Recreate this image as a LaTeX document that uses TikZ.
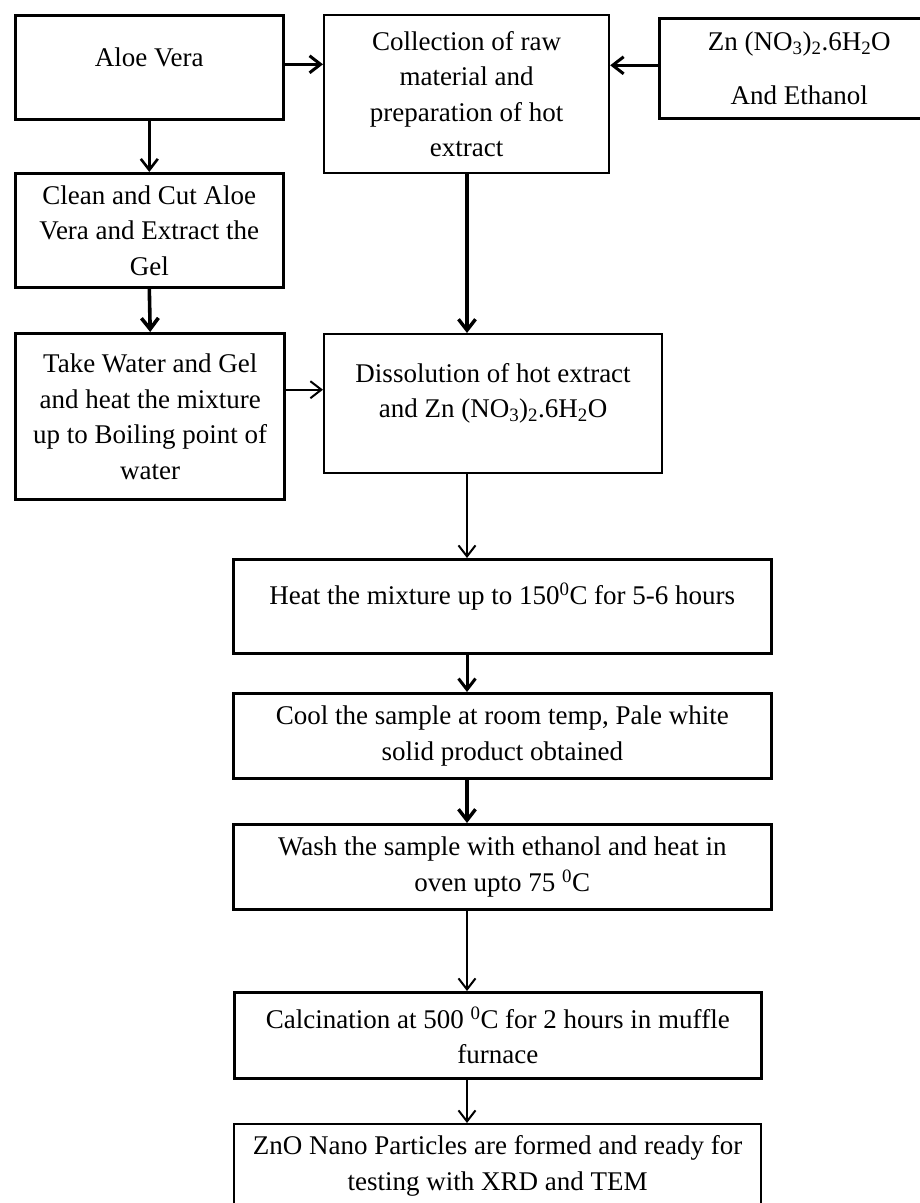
\documentclass[tikz,border=0pt]{standalone}
\usepackage{fontspec}
\setmainfont{Liberation Serif}
\usetikzlibrary{arrows.meta}

\begin{document}
\begin{tikzpicture}[x=1pt,y=-1pt,
    stepbox/.style={draw, line width=2.6pt, rectangle, anchor=north west,
      align=center, inner sep=0pt, font=\fontsize{27}{35.5}\selectfont},
    flow/.style={line width=3pt, -{Straight Barb[length=11pt,width=17pt]}},
    thinflow/.style={flow, line width=2pt}]
	\useasboundingbox (0,0) rectangle (919,1203);
	% top row
	\node[stepbox, minimum width=268pt, minimum height=104pt, text depth=20pt]
		(aloe) at (14,14) {Aloe Vera};
	\node[stepbox, line width=2.2pt, minimum width=285pt, minimum height=158pt]
		(collect) at (323,14) {Collection of raw\\material and\\preparation of hot\\extract};
	\node[stepbox, minimum width=280pt, minimum height=100pt]
		(zinc) at (658,17) {Zn (NO\textsubscript{3})\textsubscript{2}.6H\textsubscript{2}O\\[18pt]And Ethanol};
	% left column
	\node[stepbox, minimum width=268pt, minimum height=114pt]
		(clean) at (14,172) {Clean and Cut Aloe\\Vera and Extract the\\Gel};
	\node[stepbox, line width=3.4pt, minimum width=269pt, minimum height=166pt]
		(water) at (14,332) {Take Water and Gel\\and heat the mixture\\up to Boiling point of\\water};
	\node[stepbox, line width=2.2pt, minimum width=338pt, minimum height=139pt, text depth=26pt]
		(dissolve) at (323,333) {Dissolution of hot extract\\and Zn (NO\textsubscript{3})\textsubscript{2}.6H\textsubscript{2}O};
	% main column
	\node[stepbox, minimum width=538pt, minimum height=94pt, text depth=26pt]
		(heat) at (232,558) {Heat the mixture up to 150\textsuperscript{0}C for 5-6 hours};
	\node[stepbox, minimum width=538pt, minimum height=85pt]
		(cool) at (232,692) {Cool the sample at room temp, Pale white\\solid product obtained};
	\node[stepbox, minimum width=538pt, minimum height=85pt]
		(wash) at (232,823) {Wash the sample with ethanol and heat in\\oven upto 75 \textsuperscript{0}C};
	\node[stepbox, minimum width=527pt, minimum height=86pt]
		(calcine) at (233,991) {Calcination at 500 \textsuperscript{0}C for 2 hours in muffle\\furnace};
	\node[stepbox, line width=2.2pt, minimum width=527pt, minimum height=84pt]
		(zno) at (233,1123) {ZnO Nano Particles are formed and ready for\\testing with XRD and TEM};
	\coordinate (spine) at (467,0);
	% connectors
	\draw[flow] ([yshift=3pt]aloe.east) -- ([yshift=3pt]aloe.east -| collect.west);
	\draw[flow] ([yshift=3pt]zinc.west) -- ([yshift=3pt]zinc.west -| collect.east);
	\draw[flow, line width=2.6pt] (aloe.south) -- (clean.north);
	\draw[flow, line width=3.6pt] (clean.south) -- (water.north);
	\draw[thinflow] ([yshift=27pt]water.east) -- ([yshift=27pt]water.east -| dissolve.west);
	\draw[flow, line width=3.4pt] (collect.south -| spine) -- (dissolve.north -| spine);
	\draw[thinflow] (dissolve.south -| spine) -- (heat.north -| spine);
	\draw[flow] (heat.south -| spine) -- (cool.north -| spine);
	\draw[flow, line width=3.4pt] (cool.south -| spine) -- (wash.north -| spine);
	\draw[thinflow] (wash.south -| spine) -- (calcine.north -| spine);
	\draw[thinflow] (calcine.south -| spine) -- (zno.north -| spine);
\end{tikzpicture}
\end{document}
